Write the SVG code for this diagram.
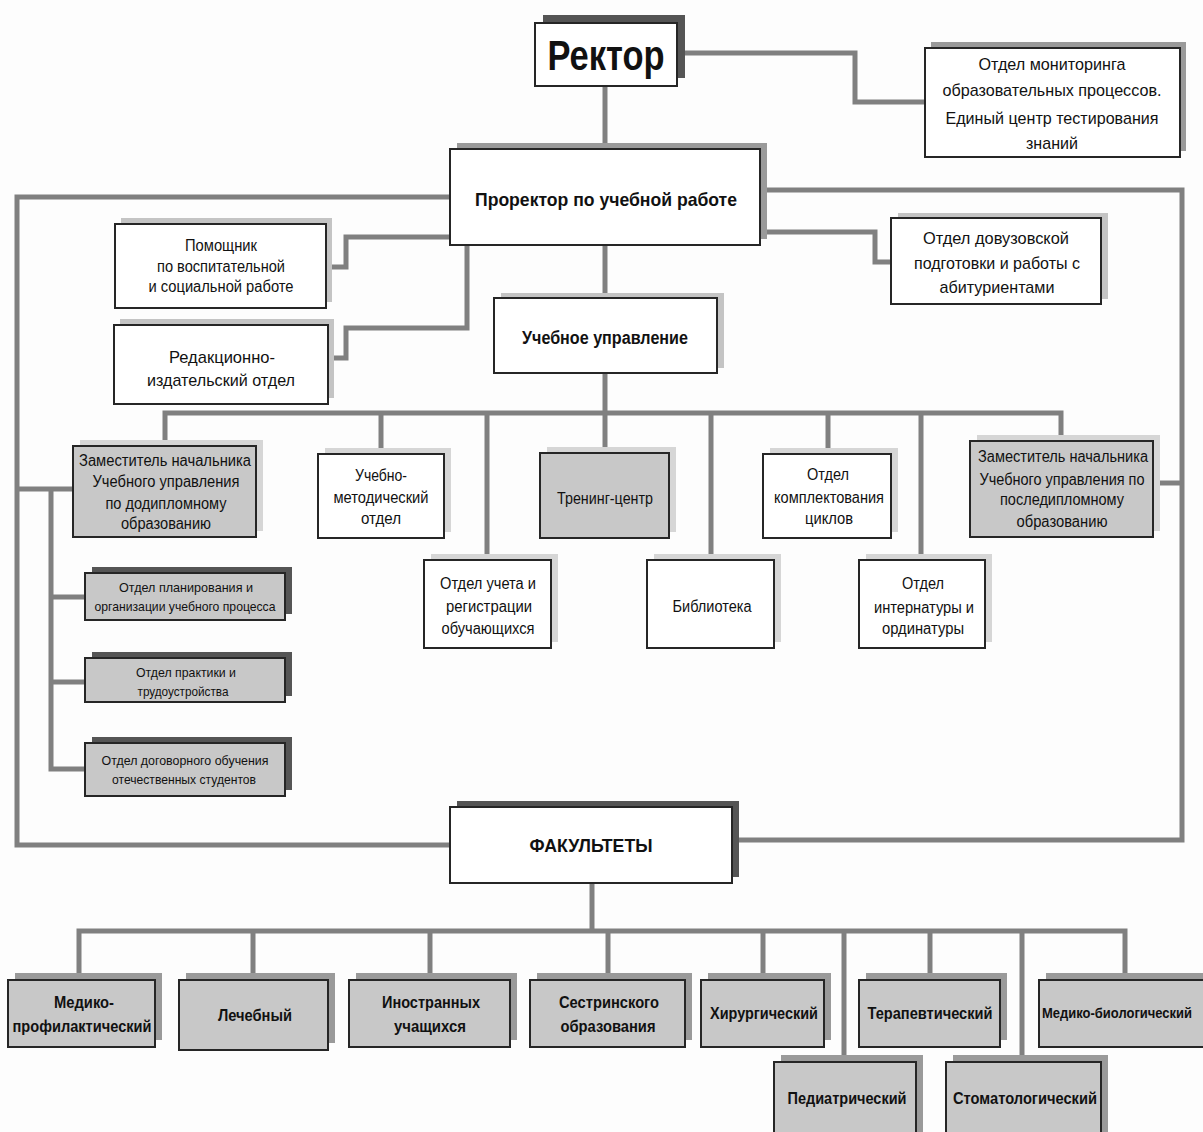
<svg xmlns="http://www.w3.org/2000/svg" width="1203" height="1132" viewBox="0 0 1203 1132">
<style>
.bg{fill:#fdfdfd}
.c{stroke:#808080;stroke-width:5;fill:none;stroke-linejoin:miter}
.w{fill:#ffffff;stroke:#262626;stroke-width:2}
.g{fill:#c8c8c8;stroke:#262626;stroke-width:2}
.sd{fill:#555555}
.sm{fill:#9a9a9a}
.sl{fill:#c4c4c4}
.sx{fill:#d6d6d6}
text{font-family:"Liberation Sans",Arial,sans-serif;fill:#111;text-anchor:middle}
.t{font-size:16px}
.ts{font-size:13px}
.b{font-weight:bold}
</style>
<rect class="bg" x="0" y="0" width="1203" height="1132"/>
<g id="connectors">
<path class="c" d="M605 86V149"/>
<path class="c" d="M677 53H855V102H925"/>
<path class="c" d="M450 197H17V845H450"/>
<path class="c" d="M760 190H1182V840H732"/>
<path class="c" d="M450 237H346V267H326"/>
<path class="c" d="M467 245V328H346V358H328"/>
<path class="c" d="M760 232H875V262H891"/>
<path class="c" d="M605 245V298"/>
<path class="c" d="M605 373V413"/>
<path class="c" d="M165 446V413H1061V441"/>
<path class="c" d="M381 413V454"/>
<path class="c" d="M487 413V560"/>
<path class="c" d="M605 413V453"/>
<path class="c" d="M711 413V560"/>
<path class="c" d="M828 413V454"/>
<path class="c" d="M921 413V560"/>
<path class="c" d="M17 489H73"/>
<path class="c" d="M1153 483H1182"/>
<path class="c" d="M51 489V769H85"/>
<path class="c" d="M51 597H85"/>
<path class="c" d="M51 682H85"/>
<path class="c" d="M592 883V931"/>
<path class="c" d="M79 980V931H1125V980"/>
<path class="c" d="M253 931V980"/>
<path class="c" d="M430 931V980"/>
<path class="c" d="M608 931V980"/>
<path class="c" d="M763 931V980"/>
<path class="c" d="M844 931V1062"/>
<path class="c" d="M930 931V980"/>
<path class="c" d="M1022 931V1062"/>
</g>
<g id="rector">
<rect class="sd" x="543" y="15" width="142" height="63"/>
<rect class="w" x="535" y="23" width="142" height="63"/>
<text class="b" x="606" y="70" font-size="42" textLength="117" lengthAdjust="spacingAndGlyphs">Ректор</text>
</g>
<g id="monitoring">
<rect class="sm" x="931" y="42" width="255" height="109"/>
<rect class="w" x="925" y="48" width="255" height="109"/>
<text x="1052" y="70" font-size="17" textLength="147" lengthAdjust="spacingAndGlyphs">Отдел мониторинга</text>
<text x="1052" y="96" font-size="17" textLength="219" lengthAdjust="spacingAndGlyphs">образовательных процессов.</text>
<text x="1052" y="124" font-size="17" textLength="213" lengthAdjust="spacingAndGlyphs">Единый центр тестирования</text>
<text x="1052" y="149" font-size="17" textLength="52" lengthAdjust="spacingAndGlyphs">знаний</text>
</g>
<g id="prorector">
<rect class="sm" x="457" y="143" width="310" height="96"/>
<rect class="w" x="450" y="149" width="310" height="96"/>
<text class="b" x="606" y="206" font-size="19" textLength="262" lengthAdjust="spacingAndGlyphs">Проректор по учебной работе</text>
</g>
<g id="assistant">
<rect class="sl" x="121" y="218" width="211" height="84"/>
<rect class="w" x="115" y="224" width="211" height="84"/>
<text class="t" x="221" y="251" textLength="72" lengthAdjust="spacingAndGlyphs">Помощник</text>
<text class="t" x="221" y="272" textLength="128" lengthAdjust="spacingAndGlyphs">по воспитательной</text>
<text class="t" x="221" y="292" textLength="145" lengthAdjust="spacingAndGlyphs">и социальной работе</text>
</g>
<g id="editorial">
<rect class="sl" x="120" y="319" width="214" height="79"/>
<rect class="w" x="114" y="325" width="214" height="79"/>
<text x="222" y="363" font-size="17" textLength="106" lengthAdjust="spacingAndGlyphs">Редакционно-</text>
<text x="221" y="386" font-size="17" textLength="148" lengthAdjust="spacingAndGlyphs">издательский отдел</text>
</g>
<g id="preuniversity">
<rect class="sl" x="898" y="213" width="210" height="86"/>
<rect class="w" x="891" y="218" width="210" height="86"/>
<text x="996" y="244" font-size="17" textLength="146" lengthAdjust="spacingAndGlyphs">Отдел довузовской</text>
<text x="997" y="269" font-size="17" textLength="166" lengthAdjust="spacingAndGlyphs">подготовки и работы с</text>
<text x="997" y="293" font-size="17" textLength="115" lengthAdjust="spacingAndGlyphs">абитуриентами</text>
</g>
<g id="academic-office">
<rect class="sl" x="501" y="293" width="223" height="75"/>
<rect class="w" x="494" y="298" width="223" height="75"/>
<text class="b" x="605" y="344" font-size="18" textLength="166" lengthAdjust="spacingAndGlyphs">Учебное управление</text>
</g>
<g id="deputy-undergrad">
<rect class="sx" x="80" y="440" width="183" height="91"/>
<rect class="g" x="73" y="446" width="183" height="91"/>
<text class="t" x="165" y="466" textLength="172" lengthAdjust="spacingAndGlyphs">Заместитель начальника</text>
<text class="t" x="166" y="487" textLength="147" lengthAdjust="spacingAndGlyphs">Учебного управления</text>
<text class="t" x="166" y="509" textLength="121" lengthAdjust="spacingAndGlyphs">по додипломному</text>
<text class="t" x="166" y="529" textLength="90" lengthAdjust="spacingAndGlyphs">образованию</text>
</g>
<g id="methodical">
<rect class="sx" x="325" y="448" width="126" height="84"/>
<rect class="w" x="318" y="454" width="126" height="84"/>
<text class="t" x="381" y="481" textLength="52" lengthAdjust="spacingAndGlyphs">Учебно-</text>
<text class="t" x="381" y="503" textLength="95" lengthAdjust="spacingAndGlyphs">методический</text>
<text class="t" x="381" y="524" textLength="40" lengthAdjust="spacingAndGlyphs">отдел</text>
</g>
<g id="training">
<rect class="sx" x="547" y="447" width="129" height="85"/>
<rect class="g" x="540" y="453" width="129" height="85"/>
<text class="t" x="605" y="504" textLength="96" lengthAdjust="spacingAndGlyphs">Тренинг-центр</text>
</g>
<g id="registration">
<rect class="sx" x="431" y="554" width="127" height="88"/>
<rect class="w" x="424" y="560" width="127" height="88"/>
<text class="t" x="488" y="589" textLength="96" lengthAdjust="spacingAndGlyphs">Отдел учета и</text>
<text class="t" x="489" y="612" textLength="86" lengthAdjust="spacingAndGlyphs">регистрации</text>
<text class="t" x="488" y="634" textLength="93" lengthAdjust="spacingAndGlyphs">обучающихся</text>
</g>
<g id="library">
<rect class="sx" x="654" y="554" width="127" height="88"/>
<rect class="w" x="647" y="560" width="127" height="88"/>
<text class="t" x="712" y="612" textLength="79" lengthAdjust="spacingAndGlyphs">Библиотека</text>
</g>
<g id="cycles">
<rect class="sx" x="770" y="448" width="128" height="84"/>
<rect class="w" x="763" y="454" width="128" height="84"/>
<text class="t" x="828" y="480" textLength="42" lengthAdjust="spacingAndGlyphs">Отдел</text>
<text class="t" x="829" y="503" textLength="110" lengthAdjust="spacingAndGlyphs">комплектования</text>
<text class="t" x="829" y="524" textLength="48" lengthAdjust="spacingAndGlyphs">циклов</text>
</g>
<g id="internship">
<rect class="sx" x="866" y="554" width="126" height="88"/>
<rect class="w" x="859" y="560" width="126" height="88"/>
<text class="t" x="923" y="589" textLength="42" lengthAdjust="spacingAndGlyphs">Отдел</text>
<text class="t" x="924" y="613" textLength="100" lengthAdjust="spacingAndGlyphs">интернатуры и</text>
<text class="t" x="923" y="634" textLength="82" lengthAdjust="spacingAndGlyphs">ординатуры</text>
</g>
<g id="deputy-postgrad">
<rect class="sx" x="977" y="435" width="183" height="96"/>
<rect class="g" x="970" y="441" width="183" height="96"/>
<text class="t" x="1063" y="462" textLength="170" lengthAdjust="spacingAndGlyphs">Заместитель начальника</text>
<text class="t" x="1062" y="485" textLength="165" lengthAdjust="spacingAndGlyphs">Учебного управления по</text>
<text class="t" x="1062" y="505" textLength="124" lengthAdjust="spacingAndGlyphs">последипломному</text>
<text class="t" x="1062" y="527" textLength="91" lengthAdjust="spacingAndGlyphs">образованию</text>
</g>
<g id="planning">
<rect class="sd" x="92" y="567" width="200" height="47"/>
<rect class="g" x="85" y="573" width="200" height="47"/>
<text class="ts" x="186" y="592" textLength="134" lengthAdjust="spacingAndGlyphs">Отдел планирования и</text>
<text class="ts" x="185" y="611" textLength="181" lengthAdjust="spacingAndGlyphs">организации учебного процесса</text>
</g>
<g id="practice">
<rect class="sd" x="92" y="652" width="200" height="44"/>
<rect class="g" x="85" y="658" width="200" height="44"/>
<text class="ts" x="186" y="677" textLength="100" lengthAdjust="spacingAndGlyphs">Отдел практики и</text>
<text class="ts" x="183" y="696" textLength="91" lengthAdjust="spacingAndGlyphs">трудоустройства</text>
</g>
<g id="contract">
<rect class="sd" x="92" y="737" width="200" height="53"/>
<rect class="g" x="85" y="743" width="200" height="53"/>
<text class="ts" x="185" y="765" textLength="167" lengthAdjust="spacingAndGlyphs">Отдел договорного обучения</text>
<text class="ts" x="184" y="784" textLength="144" lengthAdjust="spacingAndGlyphs">отечественных студентов</text>
</g>
<g id="faculties">
<rect class="sd" x="457" y="801" width="282" height="76"/>
<rect class="w" x="450" y="807" width="282" height="76"/>
<text class="b" x="591" y="852" font-size="19" textLength="123" lengthAdjust="spacingAndGlyphs">ФАКУЛЬТЕТЫ</text>
</g>
<g id="f-prophylactic">
<rect class="sm" x="15" y="973" width="147" height="67"/>
<rect class="g" x="8" y="980" width="147" height="67"/>
<text class="t b" x="84" y="1008" textLength="60" lengthAdjust="spacingAndGlyphs">Медико-</text>
<text class="t b" x="82" y="1032" textLength="139" lengthAdjust="spacingAndGlyphs">профилактический</text>
</g>
<g id="f-medical">
<rect class="sm" x="186" y="973" width="149" height="70"/>
<rect class="g" x="179" y="980" width="149" height="70"/>
<text class="t b" x="255" y="1021" textLength="74" lengthAdjust="spacingAndGlyphs">Лечебный</text>
</g>
<g id="f-foreign">
<rect class="sm" x="356" y="973" width="161" height="67"/>
<rect class="g" x="349" y="980" width="161" height="67"/>
<text class="t b" x="431" y="1008" textLength="98" lengthAdjust="spacingAndGlyphs">Иностранных</text>
<text class="t b" x="430" y="1032" textLength="72" lengthAdjust="spacingAndGlyphs">учащихся</text>
</g>
<g id="f-nursing">
<rect class="sm" x="537" y="973" width="155" height="67"/>
<rect class="g" x="530" y="980" width="155" height="67"/>
<text class="t b" x="609" y="1008" textLength="100" lengthAdjust="spacingAndGlyphs">Сестринского</text>
<text class="t b" x="608" y="1032" textLength="95" lengthAdjust="spacingAndGlyphs">образования</text>
</g>
<g id="f-surgical">
<rect class="sm" x="708" y="973" width="123" height="67"/>
<rect class="g" x="701" y="980" width="123" height="67"/>
<text class="t b" x="764" y="1019" textLength="108" lengthAdjust="spacingAndGlyphs">Хирургический</text>
</g>
<g id="f-therapeutic">
<rect class="sm" x="866" y="973" width="141" height="67"/>
<rect class="g" x="859" y="980" width="141" height="67"/>
<text class="t b" x="930" y="1019" textLength="125" lengthAdjust="spacingAndGlyphs">Терапевтический</text>
</g>
<g id="f-biomedical">
<rect class="sm" x="1046" y="973" width="180" height="67"/>
<rect class="g" x="1039" y="980" width="180" height="67"/>
<text class="b" x="1117" y="1018" font-size="14" textLength="150" lengthAdjust="spacingAndGlyphs">Медико-биологический</text>
</g>
<g id="f-pediatric">
<rect class="sm" x="781" y="1055" width="142" height="90"/>
<rect class="g" x="774" y="1062" width="142" height="90"/>
<text class="t b" x="847" y="1104" textLength="119" lengthAdjust="spacingAndGlyphs">Педиатрический</text>
</g>
<g id="f-dental">
<rect class="sm" x="953" y="1055" width="155" height="90"/>
<rect class="g" x="946" y="1062" width="155" height="90"/>
<text class="t b" x="1025" y="1104" textLength="144" lengthAdjust="spacingAndGlyphs">Стоматологический</text>
</g>
</svg>
